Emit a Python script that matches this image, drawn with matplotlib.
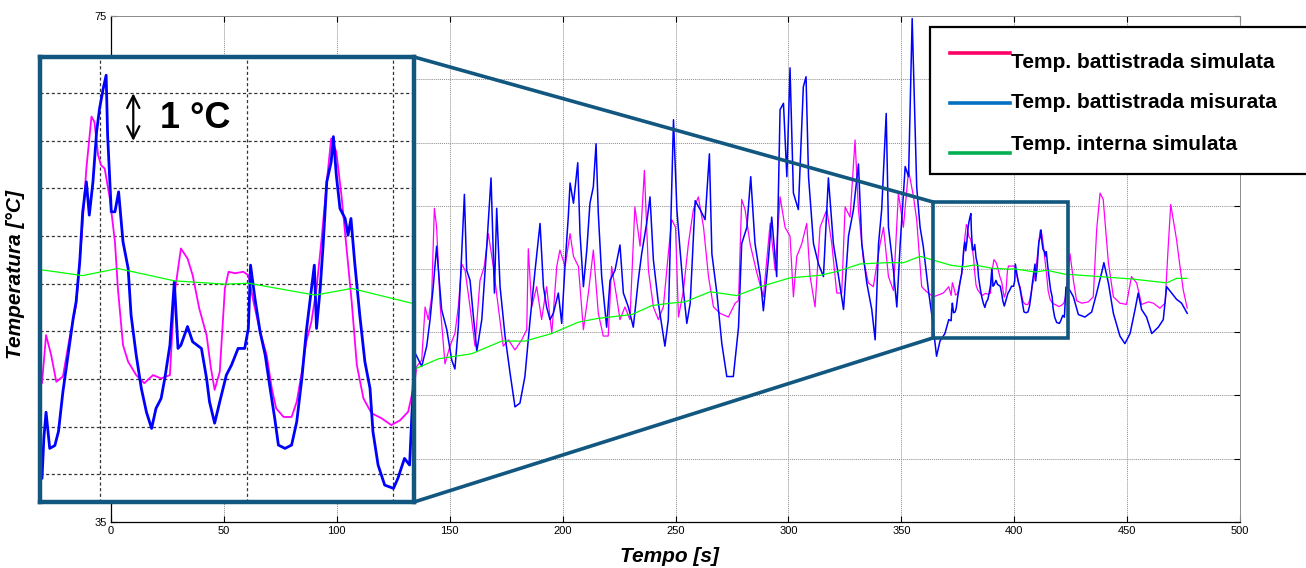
import matplotlib.pyplot as plt
import numpy as np
from matplotlib.patches import Rectangle, ConnectionPatch
from matplotlib.lines import Line2D

plt.rcParams['font.family'] = ['Liberation Sans', 'DejaVu Sans']

# --- data (time [s], temperature [°C]) ---
t_mis = [133.9, 135.4, 137.6, 139.8, 141.3, 142.7, 144.2, 145.0, 146.4, 148.7,
         150.9, 152.3, 153.8, 155.3, 156.5, 157.5, 159.0, 160.5, 162.0, 164.2,
         166.4, 168.3, 169.8, 170.8, 172.3, 174.5, 176.7, 178.9, 181.1, 183.3,
         185.6, 187.8, 190.0, 191.5, 192.9, 194.4, 195.9, 198.1, 199.6, 201.1,
         202.5, 203.3, 204.8, 206.7, 207.7, 209.2, 210.7, 212.1, 213.6, 214.8,
         215.8, 217.3, 219.5, 221.0, 223.2, 225.4, 226.9, 229.1, 231.3, 233.5,
         235.0, 237.2, 238.7, 240.2, 242.4, 245.3, 246.8, 249.1, 250.6, 252.0,
         253.5, 255.0, 256.5, 258.7, 260.9, 263.1, 265.0, 266.1, 268.3, 270.5,
         272.7, 275.6, 277.9, 279.3, 281.6, 283.3, 285.2, 287.5, 288.9, 291.1,
         292.6, 294.8, 296.3, 297.8, 299.3, 300.7, 302.2, 304.4, 306.6, 307.8,
         308.9, 311.1, 313.3, 315.5, 317.7, 319.9, 322.2, 324.4, 326.6, 328.8,
         331.0, 332.5, 334.7, 336.9, 338.4, 339.9, 341.3, 343.3, 344.3, 346.5,
         348.0, 349.5, 351.7, 353.2, 354.2, 354.8, 355.7, 356.8, 358.3, 359.7,
         362.0, 363.4, 365.6, 367.1, 369.3, 371.0,
         372.05, 372.3, 372.6, 373.1, 373.8, 374.3, 374.9, 375.6, 376.3, 376.7,
         377.2, 377.6, 378.1, 378.5, 379.0, 379.5, 379.9, 380.4, 380.8, 381.0,
         381.5, 382.0, 382.5, 383.1, 383.8, 384.2, 384.9, 385.6, 386.3, 387.0,
         387.6, 388.3, 388.8, 389.5, 390.1, 390.6, 391.0, 391.9, 392.6, 393.8,
         394.5, 394.9, 395.6, 396.3, 397.2, 397.9, 398.8, 399.7, 400.2, 400.5,
         401.1, 401.8, 402.5, 403.1, 403.8, 404.3, 405.2, 406.1, 406.8, 407.5,
         408.1, 408.7, 409.2, 409.5, 410.0, 410.4, 410.9, 411.5, 411.8, 412.2,
         412.7, 413.4, 413.8, 414.2, 414.7, 415.4, 416.1, 416.8, 417.2, 417.9,
         418.8, 420.0, 420.6, 421.5, 422.2, 422.9,
         424.7, 426.2, 428.4, 431.3, 434.3, 436.5, 438.7, 439.7, 441.7, 443.9,
         446.8, 449.0, 451.3, 453.5, 454.9, 456.4, 458.6, 460.9, 463.8, 466.0,
         467.5, 469.7, 471.9, 474.1, 476.6]
temp_mis = [48.6, 48.1, 47.3, 48.9, 51.0, 53.6, 56.8, 54.9, 51.8, 50.2,
            47.8, 47.1, 50.4, 56.2, 60.9, 54.9, 54.1, 51.2, 48.5, 51.0,
            56.8, 62.2, 53.1, 59.8, 53.6, 49.7, 46.8, 44.1, 44.4, 46.5,
            51.0, 54.9, 58.6, 53.6, 52.0, 51.0, 51.5, 53.1, 50.7, 55.4,
            59.1, 61.8, 60.2, 63.4, 57.8, 53.6, 56.5, 60.2, 61.5, 64.9,
            59.4, 54.4, 50.4, 54.1, 54.9, 56.9, 53.1, 52.0, 50.4, 54.1,
            56.2, 58.6, 60.7, 55.7, 52.3, 48.9, 51.0, 66.8, 59.7, 56.5,
            53.3, 50.7, 52.3, 60.4, 59.7, 58.9, 64.1, 56.2, 53.1, 49.1,
            46.5, 46.5, 50.4, 57.0, 58.3, 62.3, 57.0, 54.4, 51.7, 55.7,
            59.1, 54.4, 67.6, 68.1, 62.3, 70.9, 61.0, 59.7, 69.4, 70.2,
            62.3, 57.0, 55.4, 54.4, 62.2, 57.0, 54.4, 51.8, 57.6, 59.7,
            63.3, 57.0, 53.9, 51.8, 49.4, 57.0, 59.7, 67.3, 58.3, 54.9,
            52.0, 57.0, 63.1, 62.3, 70.2, 74.8, 68.9, 61.5, 58.3, 56.8,
            53.3, 51.5, 48.1, 49.3, 49.9, 51.0,
            50.91, 51.75, 52.3, 51.54, 51.6, 51.9, 52.73, 53.5, 54.27, 54.62,
            55.46, 56.51, 57.14, 56.44, 57.14, 58.2, 58.68, 59.1, 59.38, 58.12,
            56.51, 56.51, 56.93, 55.88, 55.32, 54.34, 53.5, 52.8, 52.3, 51.96,
            52.38, 52.59, 53.01, 53.71, 55.04, 53.64, 53.71, 54.1, 53.78, 53.64,
            53.01, 52.52, 52.07, 52.52, 53.08, 53.29, 53.64, 53.64, 54.06, 55.39,
            54.69, 53.99, 53.5, 52.87, 52.17, 51.61, 51.54, 51.61, 52.1, 53.01,
            53.99, 54.76, 55.39, 54.06, 54.9, 55.81, 57.14, 57.56, 58.09, 57.28,
            56.58, 56.37, 56.02, 56.37, 55.46, 54.34, 53.36, 52.8, 51.89, 51.19,
            50.77, 50.7, 50.91, 51.33, 51.19, 53.57,
            53.3, 52.8, 51.4, 51.2, 51.6, 53.1, 54.7, 55.5, 53.9, 51.5,
            49.7, 49.1, 49.9, 51.8, 53.1, 51.8, 51.2, 49.9, 50.4, 51.0,
            53.6, 53.1, 52.6, 52.3, 51.5]

t_sim = [133.2, 135.4, 137.6, 139.1, 140.5, 142.0, 143.2, 144.2, 145.7, 147.9,
         150.1, 152.3, 153.8, 155.3, 156.8, 159.0, 161.2, 163.4, 165.3, 167.1,
         169.3, 171.5, 173.7, 176.0, 178.9, 181.9, 184.1, 184.8, 186.3, 188.5,
         190.7, 192.9, 195.2, 197.4, 198.8, 201.1, 203.3, 204.8, 207.0, 209.2,
         211.4, 213.6, 215.8, 218.0, 220.2, 221.7, 223.9, 225.4, 227.6, 229.8,
         232.0, 234.3, 236.2, 238.0, 240.2, 242.4, 244.6, 246.8, 248.3, 250.0,
         251.3, 253.5, 255.7, 257.9, 260.1, 262.4, 264.6, 266.8, 269.7, 273.4,
         276.4, 277.9, 279.3, 280.8, 283.0, 286.0, 288.9, 291.9, 294.1, 296.3,
         298.5, 300.7, 302.2, 303.7, 305.9, 308.1, 309.6, 311.8, 314.0, 317.0,
         319.2, 321.4, 323.6, 325.1, 327.3, 329.5, 331.0, 333.2, 335.4, 337.6,
         340.6, 342.1, 344.3, 346.5, 348.7, 350.9, 353.2, 355.3, 356.8, 359.0,
         361.2, 364.2, 368.6, 371.0,
         372.05, 372.6, 373.3, 374.0, 374.9, 375.8, 376.7, 377.4, 378.1, 378.8,
         379.2, 379.7, 380.1, 380.6, 381.3, 382.0, 382.4, 383.1, 383.8, 384.9,
         386.0, 387.2, 388.3, 389.5, 390.1, 391.0, 391.9, 392.6, 393.5, 394.5,
         395.1, 395.6, 396.3, 397.0, 397.5, 398.4, 399.5, 400.2, 400.9, 401.8,
         402.7, 403.4, 404.0, 405.0, 406.1, 406.8, 407.5, 408.1, 408.8, 409.5,
         410.2, 410.9, 411.5, 412.2, 412.9, 413.6, 414.3, 415.0, 415.9, 417.0,
         418.4, 419.7, 420.9, 422.0, 422.7,
         424.7, 426.2, 427.6, 429.9, 432.8, 435.0, 436.5, 438.0, 439.4, 441.7,
         443.9, 446.8, 449.7, 451.9, 454.2, 456.4, 459.4, 461.6, 464.5, 466.8,
         468.2, 469.3, 471.9, 473.4, 474.9, 476.6]
temp_sim = [44.0, 47.3, 47.8, 52.0, 51.0, 52.8, 59.8, 58.3, 52.3, 47.5,
            48.9, 49.9, 52.0, 55.4, 54.9, 52.0, 48.9, 54.1, 55.2, 57.8,
            55.2, 52.0, 48.9, 49.4, 48.6, 49.4, 50.2, 56.6, 52.0, 53.6,
            51.0, 53.6, 49.9, 55.2, 56.5, 55.2, 57.8, 56.0, 55.2, 50.2,
            53.1, 56.5, 51.5, 49.7, 49.7, 55.2, 52.8, 51.0, 52.0, 51.0,
            59.9, 56.8, 62.8, 54.9, 52.0, 51.0, 52.0, 56.2, 58.9, 58.3,
            51.2, 53.3, 57.0, 59.7, 60.7, 58.3, 54.4, 52.0, 51.5, 51.2,
            52.3, 52.5, 60.5, 59.7, 57.0, 54.7, 52.8, 58.6, 54.9, 60.7,
            58.3, 57.6, 52.8, 56.0, 57.0, 58.6, 54.4, 52.0, 58.3, 59.7,
            57.0, 53.1, 53.1, 59.9, 59.1, 65.2, 59.7, 55.7, 53.9, 53.6,
            57.0, 58.3, 54.4, 53.3, 61.0, 58.3, 62.8, 60.8, 58.9, 53.6,
            53.2, 52.8, 53.1, 53.6,
            52.91, 53.92, 53.5, 52.94, 53.05, 53.85, 54.55, 55.88, 57.42, 58.51,
            58.4, 57.7, 57.49, 57.42, 56.79, 55.88, 54.9, 53.71, 53.36, 53.08,
            52.91, 53.08, 53.01, 53.08, 54.76, 55.74, 55.53, 55.18, 54.48, 53.92,
            53.22, 52.77, 53.15, 54.9, 55.25, 55.22, 55.25, 55.18, 54.62, 53.99,
            53.5, 52.8, 52.38, 52.2, 52.2, 52.52, 53.15, 53.78, 54.2, 54.9,
            55.95, 57.14, 58.05, 57.77, 56.86, 55.74, 54.62, 53.29, 52.59, 52.28,
            52.17, 52.03, 52.13, 52.31, 52.8,
            56.2, 54.1, 52.5, 52.3, 52.4, 52.8, 58.1, 61.0, 60.5, 55.5,
            52.8, 52.3, 52.2, 54.4, 53.9, 52.2, 52.4, 52.3, 51.9, 52.3,
            56.8, 60.1, 57.3, 55.2, 53.3, 51.9]

t_int = [134.6, 145.0, 159.7, 173.0, 183.3, 195.2, 207.0, 215.8, 230.6, 239.4,
         247.6, 254.2, 265.3, 277.1, 287.5, 300.7, 314.0, 321.4, 331.7, 343.6,
         351.0, 358.3, 364.2, 372.05, 377.6, 382.4, 390.1, 397.0, 400.2, 409.3,
         414.3, 422.5, 438.0, 452.7, 467.5, 471.9, 476.4]
temp_int = [47.1, 47.9, 48.3, 49.3, 49.3, 49.9, 50.8, 51.1, 51.4, 52.1,
            52.3, 52.4, 53.2, 52.9, 53.6, 54.3, 54.5, 54.8, 55.4, 55.5,
            55.5, 56.0, 55.7, 55.29, 55.17, 55.32, 55.06, 54.99, 55.01, 54.76,
            54.9, 54.59, 54.4, 54.2, 53.9, 54.26, 54.26]

legend_labels = ['Temp. battistrada simulata', 'Temp. battistrada misurata',
                 'Temp. interna simulata']
legend_colors = ['#FF0066', '#0070C0', '#00B050']

zoom_x = (364.0, 423.8)
zoom_y = (49.55, 60.3)

teal = '#11577F'

fig = plt.figure(figsize=(13.06, 5.68), dpi=100)
ax = fig.add_axes([0.085, 0.081, 0.8645, 0.8908])

ax.plot(t_sim, temp_sim, color='#FF00FF', lw=0.9)
ax.plot(t_mis, temp_mis, color='#0000FF', lw=1.1)
ax.plot(t_int, temp_int, color='#00FF00', lw=0.9)

ax.set_xlim(0, 500)
ax.set_ylim(35, 75)
ax.set_xticks(np.arange(0, 501, 50))
ax.set_yticks(np.arange(35, 76, 5))
ax.tick_params(direction='in', length=4, width=0.8, labelsize=8, pad=3,
               top=True, right=True)
ax.grid(True, color='#8c8c8c', linestyle=(0, (1, 1)), lw=0.7)
ax.set_axisbelow(True)
for s in ['top', 'right']:
    ax.spines[s].set_color('#8c8c8c')
    ax.spines[s].set_linestyle((0, (1, 1)))
    ax.spines[s].set_linewidth(0.7)
for s in ['left', 'bottom']:
    ax.spines[s].set_linewidth(0.9)

ax.set_xlabel('Tempo [s]', fontsize=15, fontweight='bold', style='italic')
ax.set_ylabel('Temperatura [°C]', fontsize=15, fontweight='bold', style='italic')
ax.xaxis.set_label_coords(0.495, -0.049)
ax.yaxis.set_label_coords(-0.076, 0.49)

# zoom box on the main plot
ax.add_patch(Rectangle((zoom_x[0], zoom_y[0]), zoom_x[1] - zoom_x[0],
                       zoom_y[1] - zoom_y[0], fill=False, ec=teal, lw=2.6,
                       zorder=6))

# inset
axins = fig.add_axes([0.0306, 0.1162, 0.2864, 0.7835])
axins.plot(t_sim, temp_sim, color='#FF00FF', lw=1.3)
axins.plot(t_mis, temp_mis, color='#0000FF', lw=2.0)
axins.plot(t_int, temp_int, color='#00FF00', lw=0.9)
axins.set_xlim(371.77, 422.8)
axins.set_ylim(50.414, 59.763)
axins.set_xticks([380, 400, 420])
axins.set_yticks(np.arange(51, 60, 1))
axins.tick_params(length=0, labelbottom=False, labelleft=False)
axins.grid(True, color='#333333', linestyle=(0, (2.5, 2)), lw=0.9)
axins.set_axisbelow(True)
for s in axins.spines.values():
    s.set_color(teal)
    s.set_linewidth(3.2)

axins.annotate('', xy=(384.5, 59.0), xytext=(384.5, 58.0),
               arrowprops=dict(arrowstyle='<->', lw=1.6, color='black',
                               shrinkA=0, shrinkB=0, mutation_scale=22))
axins.text(388.1, 58.265, '1 °C', fontsize=26, fontweight='bold',
           va='baseline', ha='left')

for ya, yb in [(1, zoom_y[1]), (0, zoom_y[0])]:
    con = ConnectionPatch(xyA=(1, ya), coordsA=axins.transAxes,
                          xyB=(zoom_x[0], yb), coordsB=ax.transData,
                          color=teal, lw=2.6, zorder=6)
    fig.add_artist(con)

# legend drawn as a box (as in the original figure)
fig.add_artist(Rectangle((0.7121, 0.6937), 0.291, 0.2588,
                         transform=fig.transFigure, fc='white', ec='black',
                         lw=1.6, zorder=8))
line_y = [0.9072, 0.8192, 0.7312]
text_y = [0.8798, 0.8093, 0.7359]
for lab, col, ly, ty in zip(legend_labels, legend_colors, line_y, text_y):
    fig.add_artist(Line2D([0.7274, 0.7734], [ly, ly], transform=fig.transFigure,
                          color=col, lw=2.6, zorder=9))
    fig.text(0.7741, ty, lab, fontsize=15, fontweight='bold', va='baseline',
             ha='left', zorder=9)

fig.savefig('out.png', dpi=100)
